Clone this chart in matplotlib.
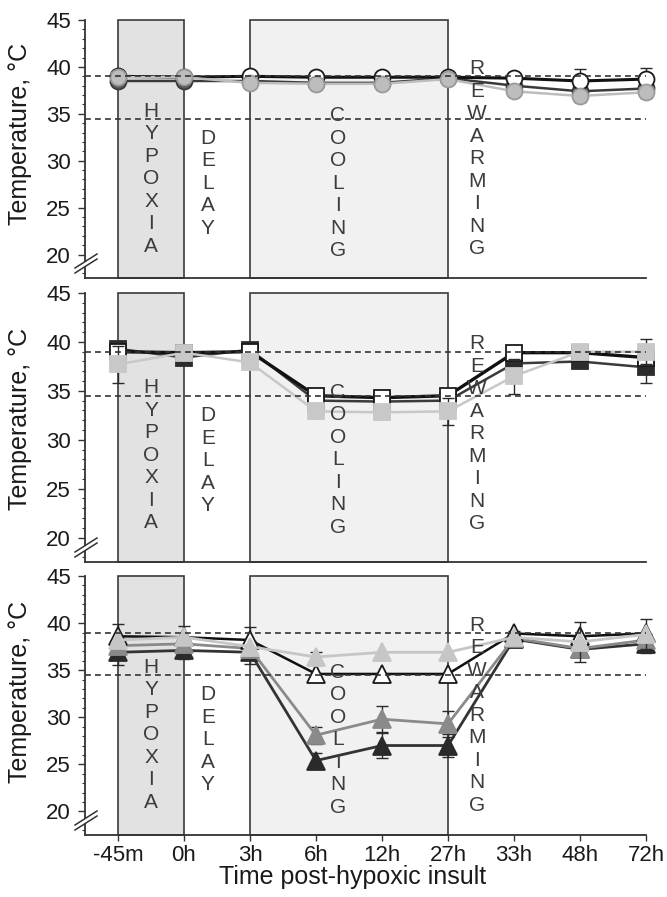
import matplotlib
matplotlib.use("Agg")
import matplotlib.pyplot as plt
from matplotlib.patches import Rectangle, Polygon
import numpy as np

plt.rcParams['font.family'] = ['Liberation Sans', 'DejaVu Sans']

# ---------------------------------------------------------------- data
time_labels = ['-45m', '0h', '3h', '6h', '12h', '27h', '33h', '48h', '72h']

# panel 1 (circles)
circ_open = [39.0, 38.9, 39.0, 38.9, 38.9, 38.9, 38.8, 38.5, 38.7]
circ_open_err = [0, 0, 0, 0, 0, 0, 0.3, 1.3, 1.2]
circ_dark = [38.5, 38.5, 38.5, 38.3, 38.3, 38.8, 38.0, 37.4, 37.7]
circ_dark_err = [0, 0, 0, 0, 0, 0, 0, 0, 0]
circ_light = [38.9, 38.9, 38.3, 38.2, 38.2, 38.7, 37.4, 36.9, 37.3]
circ_light_err = [0, 0, 0, 0, 0, 0, 0.4, 0.6, 0.6]

# panel 2 (squares)
sq_open = [39.0, 38.9, 39.0, 34.5, 34.3, 34.5, 38.9, 38.9, 38.4]
sq_open_err = [0, 0, 0, 0, 0, 0, 0, 0, 0]
sq_dark = [39.3, 38.4, 39.2, 34.0, 33.9, 34.0, 37.8, 38.0, 37.4]
sq_dark_err = [0, 0, 0, 0, 0, 0, 0, 0.7, 1.6]
sq_light = [37.7, 38.9, 37.9, 32.9, 32.8, 32.9, 36.5, 39.0, 39.0]
sq_light_err = [1.9, 0, 0, 0, 0, 1.4, 1.8, 0, 1.3]

# panel 3 (triangles)
tri_open = [38.6, 38.5, 38.2, 34.6, 34.6, 34.6, 38.9, 38.6, 38.9]
tri_open_err = [1.3, 1.2, 1.4, 0, 0, 0, 0.3, 0, 0]
tri_light = [38.2, 38.5, 37.5, 36.4, 36.9, 36.9, 38.5, 38.0, 38.8]
tri_light_err = [0, 0, 0, 0.5, 0, 0, 0, 2.1, 1.6]
tri_mid = [37.6, 37.8, 37.3, 28.1, 29.8, 29.3, 38.4, 37.3, 38.2]
tri_mid_err = [0, 0, 0, 0.9, 1.4, 1.4, 0, 0, 0]
tri_dark = [36.9, 37.1, 36.9, 25.4, 27.0, 27.0, 38.3, 37.2, 37.8]
tri_dark_err = [1.3, 0.9, 1.2, 0.8, 1.3, 1.2, 0, 0, 1.0]

# phase shading (category index spans) and reference lines
hypoxia_span = (0, 1)
cooling_span = (2, 5)
ref_lines = [39.0, 34.5]

# ---------------------------------------------------------------- style
YMIN, YMAX = 17.5, 45
W, H = 667, 897
fig = plt.figure(figsize=(W / 100, H / 100), dpi=100)

left = 85 / W
width = (646 - 85) / W
panel_px = [(20, 278), (293, 562), (576, 835)]
ylabel_centre_px = [134, 419, 692]

x = np.arange(len(time_labels))


def draw_series(ax, vals, errs, marker, face, edge, line, lw, ms, z):
    vals = np.asarray(vals, float)
    errs = np.asarray(errs, float)
    ax.plot(x, vals, color=line, lw=lw, zorder=z, clip_on=False,
            solid_joinstyle='round')
    m = errs > 0
    if m.any():
        ax.errorbar(x[m], vals[m], yerr=errs[m], fmt='none', ecolor='#2a2a2a',
                    elinewidth=1.0, capsize=4, capthick=1.0, zorder=z - 0.5,
                    clip_on=False)
    ax.plot(x, vals, ls='none', marker=marker, ms=ms, mfc=face, mec=edge,
            mew=1.3, zorder=z + 0.2, clip_on=False)


def stack_word(ax, word, xc, ytop, step=16.2, fs=15):
    for i, ch in enumerate(word):
        ax.annotate(ch, xy=(xc, ytop), xytext=(0, -i * step),
                    textcoords='offset points', ha='center', va='top',
                    fontsize=fs, color='#3c3c3c', zorder=8)


def break_marks(ax, top_px, bot_px):
    h_px = bot_px - top_px
    w_px = 646 - 85

    def p(dx, dy):
        return (dx / w_px, dy / h_px)

    base = 12
    a0, a1 = p(-10, base - 7), p(12, base + 7)
    b0, b1 = p(-10, base - 2), p(12, base + 12)
    ax.add_patch(Polygon([a0, a1, b1, b0], closed=True, transform=ax.transAxes,
                         facecolor='white', edgecolor='none', zorder=9,
                         clip_on=False))
    for (u, v) in ((a0, a1), (b0, b1)):
        ax.plot([u[0], v[0]], [u[1], v[1]], transform=ax.transAxes,
                color='#333333', lw=1.1, clip_on=False, zorder=10)


def setup_axes(ax, top_px, bot_px, show_x):
    ax.set_xlim(-0.5, len(time_labels) - 1)
    ax.set_ylim(YMIN, YMAX)
    for s in ('top', 'right'):
        ax.spines[s].set_visible(False)
    for s in ('left', 'bottom'):
        ax.spines[s].set_color('#333333')
        ax.spines[s].set_linewidth(1.3)
    ax.set_yticks([20, 25, 30, 35, 40, 45])
    ax.set_yticks(np.arange(18, 46, 1), minor=True)
    ax.tick_params(axis='y', which='major', length=5, width=1.0,
                   color='#333333', labelsize=16, pad=5, labelcolor='#1a1a1a')
    ax.tick_params(axis='y', which='minor', length=2.5, width=0.8,
                   color='#333333')
    ax.set_xticks(x)
    if show_x:
        ax.set_xticklabels(time_labels)
        ax.tick_params(axis='x', length=4, width=1.0, color='#333333',
                       labelsize=16, pad=3, labelcolor='#1a1a1a')
    else:
        ax.set_xticklabels([])
        ax.tick_params(axis='x', length=0)

    # phase boxes
    for (x0, x1), fc in ((hypoxia_span, '#e2e2e2'), (cooling_span, '#f1f1f1')):
        ax.add_patch(Rectangle((x0, YMIN), x1 - x0, YMAX - YMIN, facecolor=fc,
                               edgecolor='#3a3a3a', lw=1.2, zorder=1,
                               clip_on=False))
    for yv in ref_lines:
        ax.axhline(yv, color='#333333', lw=1.2, ls=(0, (3.5, 2.5)), zorder=7)

    stack_word(ax, 'HYPOXIA', 0.5, 36.3)
    stack_word(ax, 'DELAY', 1.36, 33.4)
    stack_word(ax, 'COOLING', 3.33, 35.8)
    stack_word(ax, 'REWARMING', 5.44, 40.8)
    break_marks(ax, top_px, bot_px)


axes = []
for i, (t, b) in enumerate(panel_px):
    ax = fig.add_axes([left, 1 - b / H, width, (b - t) / H])
    setup_axes(ax, t, b, show_x=(i == 2))
    fig.text(20 / W, 1 - ylabel_centre_px[i] / H, 'Temperature, °C',
             rotation=90, ha='center', va='center', fontsize=18,
             color='#1a1a1a')
    axes.append(ax)

ms_c, ms_s, ms_t = 11.5, 11.5, 12.5

# panel 1: circles
a = axes[0]
draw_series(a, circ_dark, circ_dark_err, 'o', '#5c5c5c', '#3a3a3a', '#3a3a3a', 1.8, ms_c, 3)
draw_series(a, circ_open, circ_open_err, 'o', 'white', '#1a1a1a', '#111111', 2.2, ms_c, 4)
draw_series(a, circ_light, circ_light_err, 'o', '#bdbdbd', '#9a9a9a', '#bdbdbd', 1.8, ms_c, 5)

# panel 2: squares
a = axes[1]
draw_series(a, sq_dark, sq_dark_err, 's', '#2c2c2c', '#2c2c2c', '#3a3a3a', 1.8, ms_s, 3)
draw_series(a, sq_open, sq_open_err, 's', 'white', '#1a1a1a', '#111111', 2.4, ms_s, 4)
draw_series(a, sq_light, sq_light_err, 's', '#c8c8c8', '#c8c8c8', '#c8c8c8', 1.8, ms_s, 5)

# panel 3: triangles
a = axes[2]
draw_series(a, tri_dark, tri_dark_err, '^', '#2a2a2a', '#2a2a2a', '#333333', 2.0, ms_t, 3)
draw_series(a, tri_mid, tri_mid_err, '^', '#8a8a8a', '#8a8a8a', '#8a8a8a', 2.0, ms_t, 3.5)
draw_series(a, tri_open, tri_open_err, '^', 'white', '#1a1a1a', '#111111', 1.8, ms_t, 4)
draw_series(a, tri_light, tri_light_err, '^', '#c6c6c6', '#c6c6c6', '#c6c6c6', 2.0, ms_t, 5)

fig.text(353 / W, 1 - 877 / H, 'Time post-hypoxic insult', ha='center',
         va='center', fontsize=18, color='#1a1a1a')

fig.savefig('out.png', dpi=100)
